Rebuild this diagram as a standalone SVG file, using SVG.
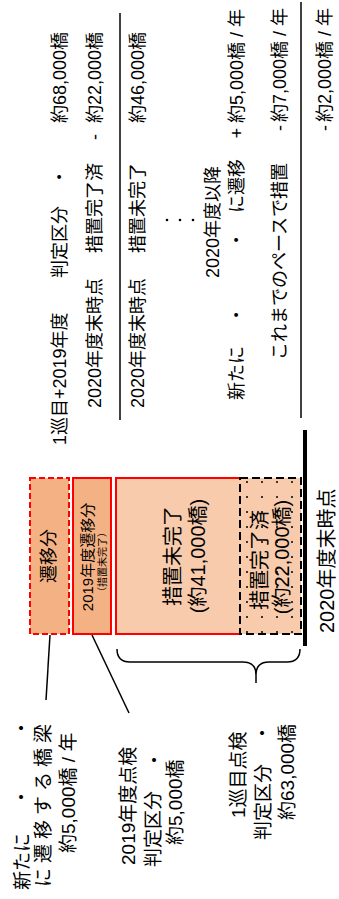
<svg xmlns="http://www.w3.org/2000/svg" width="339" height="899" viewBox="0 0 339 899">
<defs>
<pattern id="dots" width="15" height="15" patternUnits="userSpaceOnUse" x="240" y="478"><circle cx="7" cy="4" r="1" fill="#000"/></pattern>
<style>
text{font-family:"Liberation Sans","Noto Sans CJK JP",sans-serif;fill:#000;dominant-baseline:central}
.s18{font-size:18px}
.s19{font-size:19px}
.s20{font-size:20px}
.s15{font-size:15px}
.s10{font-size:10px}
.m{text-anchor:middle}
.ln{stroke:#000;stroke-width:1.5;fill:none}
</style>
</defs>
<rect width="339" height="899" fill="#fff"/>

<g id="summary">
<text class="s18" transform="translate(60,445) rotate(-90)">1巡目+2019年度</text>
<text class="s18" transform="translate(60,278) rotate(-90)">判定区分</text>
<text class="s18 m" transform="translate(60,177) rotate(-90)">・</text>
<text class="s18" transform="translate(60,123) rotate(-90)">約68,000橋</text>
<text class="s18" transform="translate(95,408) rotate(-90)">2020年度末時点</text>
<text class="s18" transform="translate(95,253) rotate(-90)">措置完了済</text>
<text class="s18 m" transform="translate(95,137) rotate(-90)">-</text>
<text class="s18" transform="translate(95,123) rotate(-90)">約22,000橋</text>
<text class="s18" transform="translate(138,408) rotate(-90)">2020年度末時点</text>
<text class="s18" transform="translate(138,253) rotate(-90)">措置未完了</text>
<text class="s18" transform="translate(138,123) rotate(-90)">約46,000橋</text>
<circle cx="167" cy="220" r="1.3"/><circle cx="180" cy="220" r="1.3"/><circle cx="193" cy="220" r="1.3"/>
<text class="s18" transform="translate(213,278) rotate(-90)">2020年度以降</text>
<text class="s18" transform="translate(237,400) rotate(-90)">新たに</text>
<text class="s18 m" transform="translate(237,315) rotate(-90)">・</text>
<text class="s18 m" transform="translate(237,240) rotate(-90)">・</text>
<text class="s18" transform="translate(237,213) rotate(-90)">に遷移</text>
<text class="s18 m" transform="translate(237,133) rotate(-90)">+</text>
<text class="s18" transform="translate(237,123) rotate(-90)">約5,000橋 / 年</text>
<text class="s18" transform="translate(280,360) rotate(-90)">これまでのペースで措置</text>
<text class="s18 m" transform="translate(280,128) rotate(-90)">-</text>
<text class="s18" transform="translate(280,122) rotate(-90)">約7,000橋 / 年</text>
<text class="s18 m" transform="translate(325,128) rotate(-90)">-</text>
<text class="s18" transform="translate(325,122) rotate(-90)">約2,000橋 / 年</text>
</g>

<g id="box-new">
<rect x="30" y="478" width="39" height="156" fill="#F4B183" stroke="#FF0000" stroke-width="2" stroke-dasharray="6 3"/>
<text class="s18 m" transform="translate(49,556) rotate(-90)">遷移分</text>
</g>
<g id="box-2019">
<rect x="73" y="478" width="38" height="156" fill="#F4B183" stroke="#FF0000" stroke-width="2"/>
<text class="s15 m" transform="translate(87,557) rotate(-90)">2019年度遷移分</text>
<text class="s10 m" transform="translate(102,562) rotate(-90)">（措置未完了）</text>
</g>
<g id="box-incomplete">
<rect x="116" y="478" width="185" height="156" fill="#F8CBAD"/>
<path d="M240,478 H116 V634 H240" fill="none" stroke="#FF0000" stroke-width="2"/>
<text class="s20 m" transform="translate(173,556) rotate(-90)">措置未完了</text>
<text class="s20 m" transform="translate(198,556) rotate(-90)">(約41,000橋)</text>
</g>
<g id="box-done">
<rect x="240" y="478" width="61" height="156" fill="url(#dots)" stroke="#000" stroke-width="2" stroke-dasharray="8 4"/>
<text class="s20 m" transform="translate(260,560) rotate(-90)">措置完了済</text>
<text class="s20 m" transform="translate(282,557) rotate(-90)">(約22,000橋)</text>
</g>

<g id="label-new">
<text class="s19" transform="translate(22,890) rotate(-90)">新たに</text>
<text class="s19 m" transform="translate(22,797) rotate(-90)">・</text>
<text class="s19 m" transform="translate(22,728) rotate(-90)">・</text>
<text class="s19" transform="translate(43,887) rotate(-90)" textLength="163" lengthAdjust="spacing">に遷移する橋梁</text>
<text class="s19" transform="translate(68,853) rotate(-90)">約5,000橋 / 年</text>
</g>
<g id="label-2019">
<text class="s19" transform="translate(128,865) rotate(-90)">2019年度点検</text>
<text class="s19" transform="translate(153,867) rotate(-90)">判定区分</text>
<text class="s19 m" transform="translate(155,760) rotate(-90)">・</text>
<text class="s19" transform="translate(175,845) rotate(-90)">約5,000橋</text>
</g>
<g id="label-first">
<text class="s19" transform="translate(238,818) rotate(-90)">1巡目点検</text>
<text class="s19" transform="translate(263,840) rotate(-90)">判定区分</text>
<text class="s19 m" transform="translate(263,733) rotate(-90)">・</text>
<text class="s19" transform="translate(287,820) rotate(-90)">約63,000橋</text>
</g>
<g id="label-time">
<text class="s20" transform="translate(327,633) rotate(-90)">2020年度末時点</text>
</g>

<g id="connectors">
<line class="ln" x1="120" y1="13" x2="120" y2="420"/>
<line class="ln" x1="301" y1="2" x2="301" y2="418"/>
<line x1="305" y1="430" x2="305" y2="646" stroke="#000" stroke-width="4"/>
<line class="ln" x1="50" y1="635" x2="46" y2="700"/>
<line class="ln" x1="92" y1="635" x2="129" y2="713"/>
<path class="ln" d="M117,649 Q117,662 130,662 H243 Q256,662 256,675 V683 M256,675 Q256,662 269,662 H287 Q300,662 300,649"/>
</g>
</svg>
